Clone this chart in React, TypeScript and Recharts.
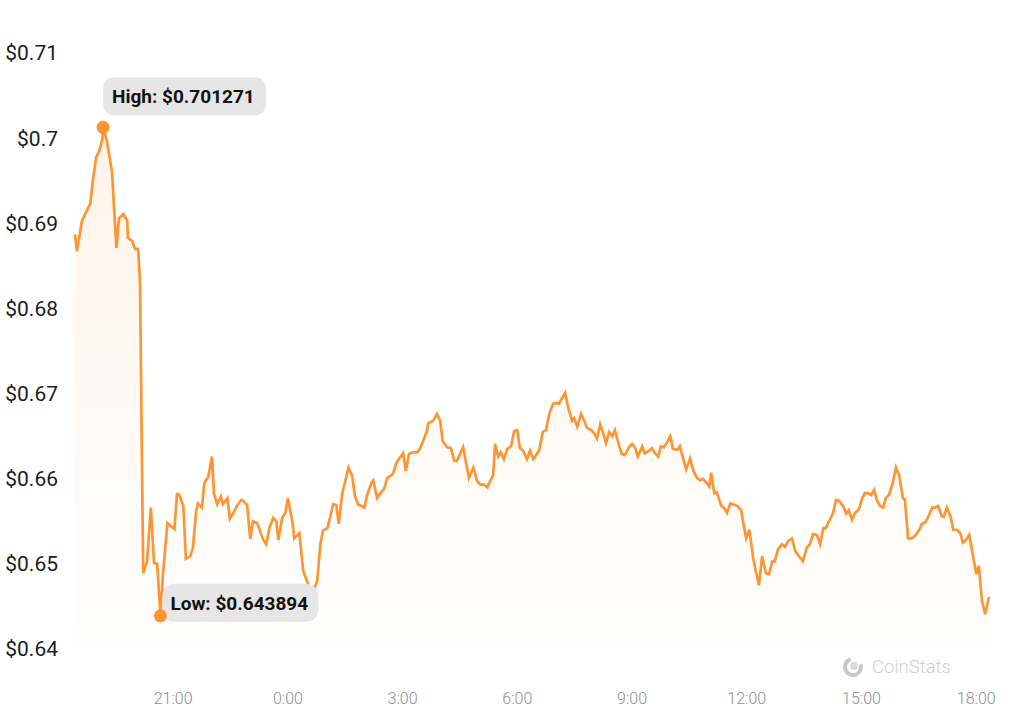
import { Area, AreaChart, ReferenceDot, XAxis, YAxis } from "recharts";

// minutes after 18:00 of the first day
const times = [
    26, 29, 37, 42, 50, 54, 59, 64, 69, 70,
    76, 84, 91, 95, 102, 108, 109, 116, 120, 125,
    128, 133, 139, 145, 150, 155, 160, 164, 171, 177,
    182, 186, 189, 196, 200, 207, 211, 216, 219, 225,
    229, 235, 241, 244, 249, 255, 258, 265, 269, 274,
    280, 287, 290, 296, 301, 305, 312, 316, 321, 326,
    331, 337, 342, 345, 351, 356, 360, 367, 370, 378,
    384, 392, 400, 406, 411, 415, 422, 426, 431, 436,
    440, 445, 450, 455, 461, 465, 470, 480, 484, 491,
    494, 500, 505, 511, 516, 522, 525, 530, 534, 541,
    545, 550, 556, 563, 567, 572, 578, 580, 588, 594,
    599, 603, 610, 616, 621, 625, 635, 640, 644, 651,
    657, 662, 668, 673, 677, 682, 685, 690, 694, 699,
    704, 710, 715, 720, 724, 729, 735, 740, 745, 754,
    760, 765, 770, 776, 781, 785, 795, 800, 806, 809,
    814, 820, 825, 829, 836, 840, 845, 850, 855, 859,
    864, 869, 873, 880, 884, 889, 895, 900, 905, 909,
    916, 920, 927, 931, 936, 941, 945, 950, 955, 960,
    964, 971, 975, 980, 985, 991, 996, 1002, 1007, 1011,
    1018, 1021, 1024, 1029, 1033, 1040, 1044, 1049, 1054, 1058,
    1065, 1071, 1074, 1079, 1084, 1090, 1094, 1099, 1104, 1110,
    1115, 1120, 1124, 1129, 1135, 1140, 1145, 1151, 1156, 1162,
    1168, 1174, 1179, 1184, 1190, 1195, 1200, 1204, 1209, 1215,
    1220, 1225, 1231, 1236, 1240, 1245, 1250, 1256, 1261, 1265,
    1270, 1275, 1280, 1284, 1289, 1294, 1298, 1303, 1309, 1314,
    1319, 1325, 1328, 1333, 1339, 1344, 1350, 1355, 1360, 1364,
    1371, 1375, 1380, 1386, 1389, 1394, 1400, 1404, 1410, 1415,
    1419, 1424, 1429, 1435, 1440, 1444, 1449, 1454, 1460,
];

const prices = [
    0.6887, 0.6867, 0.6903, 0.6911, 0.6923, 0.6950, 0.6977, 0.6985, 0.6999, 0.701271,
    0.6997, 0.6961, 0.6871, 0.6906, 0.6911, 0.6903, 0.6883, 0.6879, 0.6870, 0.6870,
    0.6832, 0.6489, 0.6503, 0.6566, 0.6501, 0.6500, 0.643894, 0.6488, 0.6548, 0.6544,
    0.6541, 0.6582, 0.6582, 0.6568, 0.6506, 0.6509, 0.6519, 0.6562, 0.6571, 0.6566,
    0.6595, 0.6602, 0.6626, 0.6583, 0.6570, 0.6579, 0.6570, 0.6577, 0.6553, 0.6559,
    0.6568, 0.6575, 0.6574, 0.6569, 0.6529, 0.6550, 0.6548, 0.6539, 0.6529, 0.6523,
    0.6542, 0.6554, 0.6550, 0.6528, 0.6554, 0.6560, 0.6577, 0.6550, 0.6530, 0.6536,
    0.6492, 0.6476, 0.6468, 0.6480, 0.6523, 0.6539, 0.6542, 0.6554, 0.6570, 0.6569,
    0.6547, 0.6582, 0.6597, 0.6613, 0.6603, 0.6580, 0.6570, 0.6566, 0.6580, 0.6595,
    0.6598, 0.6577, 0.6583, 0.6588, 0.6601, 0.6604, 0.6606, 0.6618, 0.6623, 0.6630,
    0.6609, 0.6629, 0.6631, 0.6631, 0.6635, 0.6644, 0.6656, 0.6665, 0.6668, 0.6676,
    0.6668, 0.6644, 0.6637, 0.6636, 0.6621, 0.6621, 0.6637, 0.6617, 0.6601, 0.6613,
    0.6597, 0.6593, 0.6593, 0.6590, 0.6597, 0.6604, 0.6641, 0.6626, 0.6631, 0.6623,
    0.6635, 0.6638, 0.6656, 0.6657, 0.6636, 0.6633, 0.6623, 0.6633, 0.6623, 0.6633,
    0.6655, 0.6657, 0.6676, 0.6688, 0.6689, 0.6688, 0.6701, 0.6683, 0.6668, 0.6671,
    0.6661, 0.6676, 0.6668, 0.6660, 0.6657, 0.6654, 0.6647, 0.6664, 0.6653, 0.6642,
    0.6655, 0.6650, 0.6657, 0.6638, 0.6629, 0.6628, 0.6637, 0.6641, 0.6636, 0.6626,
    0.6638, 0.6630, 0.6633, 0.6636, 0.6630, 0.6626, 0.6638, 0.6637, 0.6643, 0.6650,
    0.6635, 0.6634, 0.6638, 0.6624, 0.6611, 0.6624, 0.6610, 0.6601, 0.6598, 0.6600,
    0.6594, 0.6591, 0.6607, 0.6583, 0.6584, 0.6568, 0.6566, 0.6560, 0.6571, 0.6570,
    0.6568, 0.6563, 0.6550, 0.6530, 0.6540, 0.6507, 0.6492, 0.6475, 0.6509, 0.6489,
    0.6488, 0.6503, 0.6503, 0.6517, 0.6523, 0.6520, 0.6527, 0.6530, 0.6515, 0.6509,
    0.6503, 0.6519, 0.6523, 0.6535, 0.6534, 0.6523, 0.6542, 0.6542, 0.6550, 0.6559,
    0.6575, 0.6574, 0.6568, 0.6559, 0.6563, 0.6552, 0.6560, 0.6564, 0.6577, 0.6583,
    0.6583, 0.6581, 0.6587, 0.6575, 0.6568, 0.6566, 0.6577, 0.6581, 0.6595, 0.6613,
    0.6604, 0.6577, 0.6576, 0.6530, 0.6530, 0.6533, 0.6539, 0.6547, 0.6549, 0.6554,
    0.6566, 0.6566, 0.6568, 0.6556, 0.6555, 0.6566, 0.6555, 0.6540, 0.6540, 0.6536,
    0.6525, 0.6528, 0.6534, 0.6509, 0.6488, 0.6498, 0.6456, 0.6441, 0.6461,
];

const yTicks = [0.64, 0.65, 0.66, 0.67, 0.68, 0.69, 0.7, 0.71];
const xTicks = [180, 360, 540, 720, 900, 1080, 1260, 1440];
const xTickLabels = ["21:00", "0:00", "3:00", "6:00", "9:00", "12:00", "15:00", "18:00"];

const data = times.map((time, i) => ({ time, price: prices[i] }));

const highIndex = prices.indexOf(Math.max(...prices));
const lowIndex = prices.indexOf(Math.min(...prices));

const ORANGE = "#fd9535";
const FONT = "Roboto, 'Noto Sans', sans-serif";

function HighMarker(props: any) {
    const { cx, cy } = props;
    return (
        <g>
            <rect x={cx} y={cy - 50} width={163} height={38} rx={11} fill="#e6e6e6" />
            <text x={cx + 9} y={cy - 24} fontFamily={FONT} fontWeight={700} fontSize={19} fill="#111">
                {`High: $${prices[highIndex]}`}
            </text>
            <circle cx={cx} cy={cy} r={6.5} fill={ORANGE} />
        </g>
    );
}

function LowMarker(props: any) {
    const { cx, cy } = props;
    return (
        <g>
            <rect x={cx + 2} y={cy - 32} width={156} height={38} rx={12} fill="#e6e6e6" />
            <text x={cx + 10} y={cy - 6} fontFamily={FONT} fontWeight={700} fontSize={19} fill="#111">
                {`Low: $${prices[lowIndex]}`}
            </text>
            <circle cx={cx} cy={cy} r={6.5} fill={ORANGE} />
        </g>
    );
}

export default function App() {
    return (
        <div style={{ position: "absolute", left: 0, top: 0, width: 1024, height: 723, background: "#fff" }}>
            <AreaChart
                width={1024}
                height={723}
                data={data}
                margin={{ top: 53, right: 35, left: 0, bottom: 0 }}
            >
                <defs>
                    <linearGradient id="priceFill" x1="0" y1="0" x2="0" y2="1">
                        <stop offset="0%" stopColor={ORANGE} stopOpacity={0.18} />
                        <stop offset="100%" stopColor={ORANGE} stopOpacity={0.01} />
                    </linearGradient>
                </defs>

                <XAxis
                    dataKey="time"
                    type="number"
                    domain={[26, 1460]}
                    ticks={xTicks}
                    interval={0}
                    tickFormatter={(value) => xTickLabels[xTicks.indexOf(value)]}
                    axisLine={false}
                    tickLine={false}
                    tickSize={0}
                    tickMargin={44}
                    height={74}
                    tick={{ fill: "#8e8e8e", fontSize: 16, fontWeight: 300, fontFamily: FONT }}
                />

                <YAxis
                    domain={[0.64, 0.71]}
                    ticks={yTicks}
                    interval={0}
                    tickFormatter={(value) => `$${Number(value.toFixed(2))}`}
                    axisLine={false}
                    tickLine={false}
                    tickSize={0}
                    tickMargin={17}
                    width={75}
                    tick={{ fill: "#1c1c1c", fontSize: 21, fontFamily: FONT }}
                />

                <Area
                    type="linear"
                    dataKey="price"
                    stroke={ORANGE}
                    strokeWidth={2.7}
                    fill="url(#priceFill)"
                    isAnimationActive={false}
                />

                <ReferenceDot
                    x={times[highIndex]}
                    y={prices[highIndex]}
                    shape={HighMarker}
                />
                <ReferenceDot
                    x={times[lowIndex]}
                    y={prices[lowIndex]}
                    shape={LowMarker}
                />
            </AreaChart>

            <div
                style={{
                    position: "absolute",
                    left: 842,
                    top: 656,
                    display: "flex",
                    alignItems: "center",
                    gap: 8,
                    fontFamily: FONT,
                    fontWeight: 300,
                    fontSize: 18.5,
                    color: "#d8cdc6",
                }}
            >
                <svg width={22} height={22} viewBox="0 0 22 22">
                    <circle cx={11} cy={11} r={8} fill="none" stroke="#c8c8c8" strokeWidth={4} strokeDasharray="38 12" transform="rotate(-20 11 11)" />
                    <circle cx={12} cy={10} r={4} fill="#dcdcdc" />
                </svg>
                <span>CoinStats</span>
            </div>
        </div>
    );
}
